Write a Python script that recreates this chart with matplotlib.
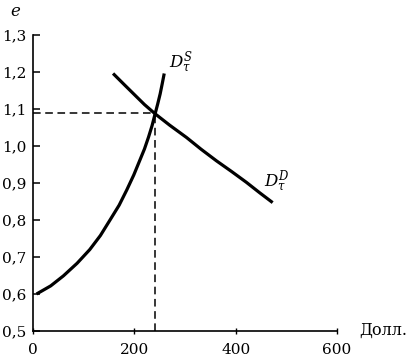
import matplotlib
matplotlib.use("Agg")
import matplotlib.pyplot as plt

# Data
supply_x = [7, 35, 60, 87, 112, 133, 152, 170, 185, 199, 211, 220, 228, 235, 241, 246, 251, 255, 259]
supply_y = [0.60, 0.622, 0.649, 0.683, 0.72, 0.758, 0.80, 0.84, 0.881, 0.922, 0.962, 0.992, 1.024, 1.055, 1.087, 1.113, 1.141, 1.168, 1.196]
demand_x = [158, 180, 200, 220, 241, 270, 303, 332, 362, 392, 421, 447, 473]
demand_y = [1.196, 1.166, 1.139, 1.112, 1.087, 1.056, 1.023, 0.991, 0.96, 0.931, 0.902, 0.874, 0.847]
eq_x, eq_y = 241, 1.09
x_ticks = [0, 200, 400, 600]
y_ticks = [0.5, 0.6, 0.7, 0.8, 0.9, 1.0, 1.1, 1.2, 1.3]
y_labels = ["0,5", "0,6", "0,7", "0,8", "0,9", "1,0", "1,1", "1,2", "1,3"]

plt.rcParams['font.family'] = ['DejaVu Serif']
plt.rcParams['mathtext.fontset'] = 'dejavuserif'

fig = plt.figure(figsize=(4.13, 3.61), dpi=100)
ax = fig.add_axes([33/413, 30/361, 304/413, 296/361])

ax.plot(supply_x, supply_y, color='black', lw=2.3, solid_capstyle='butt', solid_joinstyle='round')
ax.plot(demand_x, demand_y, color='black', lw=2.3, solid_capstyle='butt', solid_joinstyle='round')
ax.plot([0, eq_x], [eq_y, eq_y], color='black', lw=1.1, ls=(0, (5, 3)))
ax.plot([eq_x, eq_x], [0.5, eq_y], color='black', lw=1.1, ls=(0, (5, 3)))

ax.set_xlim(0, 600)
ax.set_ylim(0.5, 1.3)
ax.set_xticks(x_ticks)
ax.set_yticks(y_ticks)
ax.set_yticklabels(y_labels)
for s in ['top', 'right']:
    ax.spines[s].set_visible(False)
for s in ['left', 'bottom']:
    ax.spines[s].set_linewidth(1.2)
ax.tick_params(axis='y', direction='in', length=5, width=1.1, labelsize=11, pad=5)
ax.tick_params(axis='x', direction='inout', length=5, width=1.0, labelsize=11, pad=6)

fig.text(10/413, 1 - 12/361, 'e', fontsize=12, style='italic', ha='left', va='center')
fig.text(383/413, 1 - 330/361, 'Долл.', fontsize=11.5, ha='center', va='center')
ax.text(268, 1.225, r'$D_{\tau}^{S}$', fontsize=12, ha='left', va='center')
ax.text(456, 0.903, r'$D_{\tau}^{D}$', fontsize=12, ha='left', va='center')

fig.savefig('out.png', dpi=100)
